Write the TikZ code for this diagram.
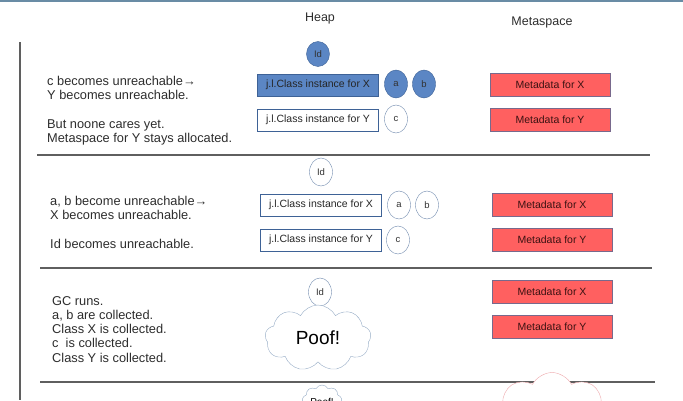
\documentclass[tikz,border=0pt]{standalone}
\usepackage{fontspec}
\setmainfont{Liberation Sans}
\usetikzlibrary{shapes.geometric,shapes.symbols}
\definecolor{heapblue}{RGB}{91,134,196}
\definecolor{heapedge}{RGB}{62,98,150}
\definecolor{circedge}{RGB}{115,140,175}
\definecolor{metared}{RGB}{255,96,96}
\definecolor{metaedge}{RGB}{120,105,140}
\definecolor{metatext}{RGB}{60,18,18}
\definecolor{rulegray}{RGB}{95,95,95}
\definecolor{textgray}{RGB}{45,45,45}
\definecolor{cloudedge}{RGB}{150,172,198}
\definecolor{pinkedge}{RGB}{238,168,172}
\definecolor{slideline}{RGB}{105,140,165}
\tikzset{
	classbox/.style={draw=heapedge, minimum width=121pt, minimum height=22pt, inner sep=0pt, text=black!85, font=\fontsize{10.5}{12}\selectfont},
	metabox/.style={draw=metaedge, fill=metared, text=metatext, minimum width=120pt, minimum height=23pt, inner sep=0pt, font=\fontsize{10.5}{12}\selectfont},
	refcirc/.style={ellipse, draw=circedge, minimum width=23pt, minimum height=28pt, inner sep=0pt, text=black!80, font=\fontsize{9.5}{10}\selectfont},
	live/.style={fill=heapblue, draw=heapedge},
	% anchored at the baseline of the last line
	note/.style={anchor=base west, align=left, inner sep=0pt, text=textgray, font=\fontsize{12.8}{14.3}\selectfont},
	sectionrule/.style={rulegray, line width=1.5pt},
	poof/.style={cloud, cloud puffs=9, cloud puff arc=125, cloud ignores aspect, draw=cloudedge, fill=white, inner sep=0pt}
}
\begin{document}
\begin{tikzpicture}[x=1pt, y=-1pt]
	\useasboundingbox (0,0) rectangle (683,400);
	\clip (0,0) rectangle (683,400);
	\draw[slideline, line width=2pt] (0,1) -- (683,1);
	\draw[rulegray, line width=1.2pt] (20,42) -- (20,400);
	\node[font=\fontsize{12.5}{14}\selectfont, text=textgray] (heap) at (320,18) {Heap};
	\node[font=\fontsize{12.5}{14}\selectfont, text=textgray] (meta) at (542,22) {Metaspace};

	% step 1
	\node[note] (say1) at (47,142.3) {c becomes unreachable→\\Y becomes unreachable.\\[14.3pt]But noone cares yet.\\Metaspace for Y stays allocated.};
	\node[refcirc, live, minimum height=25pt] (id1) at (318,54) {Id};
	\node[classbox, live] (cx1) at (318,85) {j.l.Class instance for X};
	\node[classbox] (cy1) at (318,120) {j.l.Class instance for Y};
	\node[refcirc, live] (a1) at (396,84) {a};
	\node[refcirc, live] (b1) at (424,84) {b};
	\node[refcirc] (c1) at (396,119) {c};
	\node[metabox] (mx1) at (550,85) {Metadata for X};
	\node[metabox] (my1) at (550,120) {Metadata for Y};
	\draw[sectionrule] (37,155) -- (650,155);

	% step 2
	\node[note] (say2) at (50,248) {a, b become unreachable→\\X becomes unreachable.\\[14.3pt]Id becomes unreachable.};
	\node[refcirc] (id2) at (321,172) {Id};
	\node[classbox] (cx2) at (321,205) {j.l.Class instance for X};
	\node[classbox] (cy2) at (321,240) {j.l.Class instance for Y};
	\node[refcirc] (a2) at (399,205) {a};
	\node[refcirc] (b2) at (427,205) {b};
	\node[refcirc] (c2) at (398,240) {c};
	\node[metabox] (mx2) at (552,205) {Metadata for X};
	\node[metabox] (my2) at (552,240) {Metadata for Y};
	\draw[sectionrule] (40,268) -- (652,268);

	% step 3
	\node[note] (say3) at (52,362.2) {GC runs.\\a, b are collected.\\Class X is collected.\\c\ \ is collected.\\Class Y is collected.};
	\node[refcirc] (id3) at (320,292) {Id};
	\node[poof, minimum width=106pt, minimum height=66pt, font=\fontsize{19}{20}\selectfont] (gone3) at (318,338) {Poof!};
	\node[metabox] (mx3) at (552,292) {Metadata for X};
	\node[metabox] (my3) at (552,327) {Metadata for Y};
	\draw[sectionrule] (40,382) -- (655,382);

	% step 4 (cut off by the slide)
	\node[poof, minimum width=40pt, minimum height=34pt, font=\fontsize{10}{11}\selectfont] (gone4) at (322,402) {Poof!};
	\node[poof, draw=pinkedge, minimum width=125pt, minimum height=105pt] (metagone4) at (552,425) {};
\end{tikzpicture}
\end{document}
